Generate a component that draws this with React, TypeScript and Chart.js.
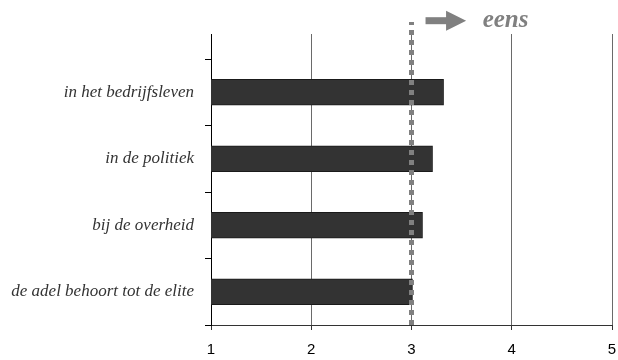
import React, { useEffect, useRef } from "react";
import { Chart, registerables } from "chart.js";

Chart.register(...registerables);

// bottom to top
const categories = [
  "de adel behoort tot de elite",
  "bij de overheid",
  "in de politiek",
  "in het bedrijfsleven",
];
const values = [3.01, 3.11, 3.21, 3.32];
const xMin = 1;
const xMax = 5;
const referenceValue = 3;
const annotationLabel = "eens";

export default function App() {
  const ref = useRef<HTMLCanvasElement>(null);

  useEffect(() => {
    document.body.style.margin = "0";
    const canvas = ref.current;
    if (!canvas) return;
    const yMin = -0.5;
    const yMax = categories.length - 0.5 + 0.376;
    const lineTop = yMax + 0.18;
    const arrowY = yMax + 0.2;

    const annotationPlugin = {
      id: "eensArrow",
      afterDatasetsDraw(chart: any) {
        const c = chart.ctx;
        const xs = chart.scales.x;
        const ys = chart.scales.y;
        const y = ys.getPixelForValue(arrowY);
        const x0 = xs.getPixelForValue(3.14);
        const xb = xs.getPixelForValue(3.345);
        const xt = xs.getPixelForValue(3.545);
        c.save();
        c.fillStyle = "#808080";
        c.fillRect(x0, y - 3.5, xb - x0 + 1, 7);
        c.beginPath();
        c.moveTo(xb, y - 10);
        c.lineTo(xt, y);
        c.lineTo(xb, y + 10);
        c.closePath();
        c.fill();
        c.font = "italic bold 25px 'Liberation Serif'";
        c.textBaseline = "alphabetic";
        c.textAlign = "left";
        c.fillText(annotationLabel, xs.getPixelForValue(3.71), y + 6.5);
        c.restore();
      },
    };

    const chart = new Chart(canvas, {
      type: "bar",
      data: {
        datasets: [
          {
            type: "bar",
            data: values.map((v, i) => ({ x: v, y: i })),
            backgroundColor: "#333333",
            borderColor: "#1a1a1a",
            borderWidth: 1,
            barThickness: 26,
            order: 2,
          } as any,
          {
            type: "line",
            data: [
              { x: referenceValue, y: yMin },
              { x: referenceValue, y: lineTop },
            ],
            borderColor: "#808080",
            borderWidth: 5,
            borderDash: [5, 5],
            borderCapStyle: "butt",
            pointRadius: 0,
            clip: false,
            order: 1,
          } as any,
        ],
      },
      plugins: [annotationPlugin],
      options: {
        indexAxis: "y",
        responsive: false,
        animation: false,
        layout: { padding: { top: 34, right: 6, left: 0, bottom: 0 } },
        plugins: {
          legend: { display: false },
          tooltip: { enabled: false },
        },
        scales: {
          x: {
            type: "linear",
            position: "bottom",
            offset: false,
            min: xMin,
            max: xMax,
            ticks: {
              stepSize: 1,
              color: "#000",
              padding: 11,
              font: { family: "'Liberation Sans', Arial", size: 15 },
            },
            grid: {
              offset: false,
              color: (ctx: any) =>
                ctx.tick && ctx.tick.value === xMin ? "rgba(0,0,0,0)" : "#6a6a6a",
              tickColor: "#333",
              tickLength: 5,
              lineWidth: 1,
            },
            border: { color: "#333", width: 1 },
            afterFit: (scale: any) => {
              scale.height = 35;
              scale.paddingLeft = 0;
              scale.paddingRight = 0;
            },
          },
          y: {
            type: "linear",
            position: "left",
            offset: false,
            min: yMin,
            max: yMax,
            afterBuildTicks: (scale: any) => {
              const t: any[] = [];
              for (let v = -0.5; v <= categories.length - 0.5 + 1e-9; v += 0.5) {
                t.push({ value: v });
              }
              scale.ticks = t;
            },
            ticks: {
              autoSkip: false,
              color: "#333",
              padding: 11,
              font: { family: "'Liberation Serif'", style: "italic", size: 17 },
              callback: (v: any) =>
                Number.isInteger(v) && categories[v] !== undefined ? categories[v] : "",
            },
            grid: {
              offset: false,
              drawOnChartArea: false,
              tickLength: 6,
              tickColor: (ctx: any) =>
                ctx.tick && Number.isInteger(ctx.tick.value) ? "rgba(0,0,0,0)" : "#000",
            },
            border: { color: "#000", width: 1 },
            afterFit: (scale: any) => {
              scale.width = 211;
              scale.paddingTop = 0;
              scale.paddingBottom = 0;
            },
          },
        },
      } as any,
    });
    return () => chart.destroy();
  }, []);

  return <canvas ref={ref} width={618} height={360} />;
}
